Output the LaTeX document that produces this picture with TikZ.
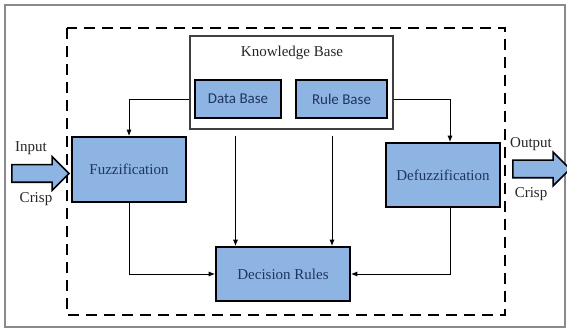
\documentclass[tikz,border=0pt]{standalone}
\usepackage{fontspec}
\setmainfont{Liberation Serif}
\newfontfamily\calfont{Carlito}
\usetikzlibrary{arrows.meta,positioning,shapes.arrows}
\definecolor{fzblue}{HTML}{8EB4E3}
\definecolor{fzink}{HTML}{1F3560}
\definecolor{framec}{HTML}{8A8A8A}
\tikzset{
  blk/.style={draw=black,fill=fzblue,line width=2pt,text=fzink,align=center,
              font=\fontsize{15}{17}\selectfont},
  sub/.style={blk,font=\calfont\fontsize{15}{17}\selectfont},
  flow/.style={-{Latex[length=2.2mm,width=1.8mm]},line width=0.9pt},
  bigarr/.style={single arrow,draw=black,fill=fzblue,line width=1.6pt,inner xsep=0pt,inner ysep=8pt,
                 single arrow head extend=8pt,minimum height=57pt},
  txt/.style={font=\fontsize{15}{17}\selectfont,text=black!85},
}
\begin{document}
\begin{tikzpicture}[x=1pt,y=-1pt]
  \useasboundingbox (0,0) rectangle (567,331);
  % frame and system boundary
  \draw[framec,line width=2pt] (5,5) rectangle (565,327);
  \draw[line width=2.6pt,dash pattern=on 11pt off 7pt] (67,28) rectangle (505,315);
  % knowledge base
  \node[draw=black!75,fill=white,line width=1.3pt,minimum width=203pt,minimum height=93pt] (kb) at (291.5,82.5) {};
  \node[txt] (kbt) at (292,53) {Knowledge Base};
  \node[sub,minimum width=86pt,minimum height=38pt] (db) at (238,99) {Data Base};
  \node[sub,minimum width=91pt,minimum height=38pt] (rb) at (341.5,99) {Rule Base};
  % main blocks
  \node[blk,minimum width=114pt,minimum height=65pt] (fuzz) at (129,169.5) {Fuzzification};
  \node[blk,minimum width=114pt,minimum height=64pt] (dfz) at (443,175) {Defuzzification};
  \node[blk,minimum width=134pt,minimum height=54pt] (dr) at (283,274) {Decision Rules};
  % crisp in / out
  \node[bigarr] (inarr) at (36,173.5) {};
  \node[bigarr] (outarr) at (537,169) {};
  \node[txt] (inlbl) at (31,148) {Input};
  \node[txt] (incr) at (36,199) {Crisp};
  \node[txt] (outlbl) at (531,144) {Output};
  \node[txt] (outcr) at (531,194) {Crisp};
  % connections
  \draw[flow] (kb.west |- db) -| (fuzz.north);
  \draw[flow] (kb.east |- rb) -| ([xshift=7pt]dfz.north);
  \draw[flow] ([xshift=-56pt,yshift=-6pt]kb.south) -- ([xshift=-56pt]kb.south |- dr.north);
  \draw[flow] ([xshift=40.5pt,yshift=-6pt]kb.south) -- ([xshift=40.5pt]kb.south |- dr.north);
  \draw[flow] (fuzz.south) |- (dr.west);
  \draw[flow] ([xshift=7pt]dfz.south) |- (dr.east);
\end{tikzpicture}
\end{document}
